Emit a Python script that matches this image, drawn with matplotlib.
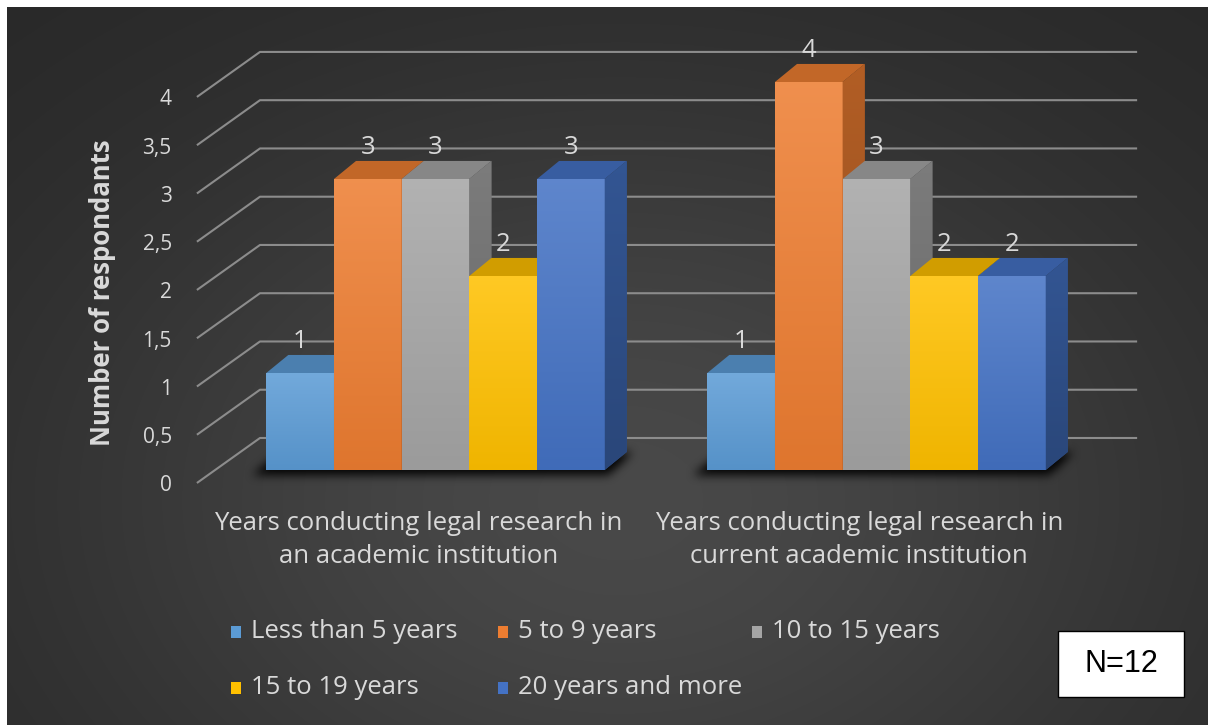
import numpy as np
import matplotlib
matplotlib.use("Agg")
import matplotlib.pyplot as plt
from matplotlib.patches import Polygon, Rectangle
from matplotlib.path import Path
from matplotlib.colors import to_rgb

# survey answers, one list per experience band (academic, current institution)
categories = ["Years conducting legal research in\nan academic institution",
              "Years conducting legal research in\ncurrent academic institution"]
series_names = ["Less than 5 years", "5 to 9 years", "10 to 15 years",
                "15 to 19 years", "20 years and more"]
less_than_5 = [1, 1]
five_to_9 = [3, 4]
ten_to_15 = [3, 3]
fifteen_to_19 = [2, 2]
twenty_plus = [3, 2]
series_values = [less_than_5, five_to_9, ten_to_15, fifteen_to_19, twenty_plus]
series_colors = ["#5B9BD5", "#ED7D31", "#A5A5A5", "#FFC000", "#4472C4"]
y_ticks = [0, 0.5, 1, 1.5, 2, 2.5, 3, 3.5, 4]
y_tick_labels = ["0", "0,5", "1", "1,5", "2", "2,5", "3", "3,5", "4"]

plt.rcParams["font.family"] = ["Open Sans", "DejaVu Sans"]
TXT = "#D9D9D9"
FS = 18.5      # category, legend and value labels
FS_TICK = 15

W, H = 1209, 725
fig = plt.figure(figsize=(W / 100, H / 100), dpi=100, facecolor="white")

# background panel in pixel coordinates
bg = fig.add_axes([0, 0, 1, 1])
bg.set_xlim(0, W)
bg.set_ylim(H, 0)
bg.axis("off")
yy, xx = np.mgrid[7:H, 7:W - 1]
d = np.sqrt(((xx - 620) / 720.0) ** 2 + ((yy - 500) / 520.0) ** 2)
shade = 0.15 + 0.135 * np.exp(-1.5 * d ** 2)
bg.imshow(np.dstack([shade] * 3), extent=(7, W - 1, H, 7), aspect="auto",
          interpolation="bilinear", zorder=0)

# chart axes: x = category index, y = value (front plane of the bars)
bar_w = 0.1535
ddx, ddy = 0.05, 0.186          # bar depth in data units
ax = fig.add_axes([215 / W, (H - 470) / H, 882 / W, 436.5 / H])
ax.set_xlim(-0.5, 1.5)
ax.set_ylim(0, 4.5)
ax.axis("off")
ax.patch.set_visible(False)


def mix(c, other, t):
    c = np.array(to_rgb(c))
    return tuple(c * (1 - t) + np.array(other) * t)


def gradient_fill(patch, x0, x1, y0, y1, c_top, c_bottom, z):
    grad = np.linspace(0, 1, 64)[:, None, None]
    img = np.array(c_top)[None, None, :] * (1 - grad) + np.array(c_bottom)[None, None, :] * grad
    img = np.repeat(img, 2, axis=1)
    im = ax.imshow(img, extent=(x0, x1, y0, y1), aspect="auto",
                   interpolation="bilinear", zorder=z)
    im.set_clip_path(patch)


# back wall gridlines with the slanted left wall
for v in y_ticks:
    yb = 0.33 + 0.995 * v
    yf = -0.134 + 0.995 * v
    ax.plot([-0.541, -0.398, 1.591], [yf, yb, yb], color="#8C8C8C", lw=1.5,
            solid_capstyle="butt", clip_on=False, zorder=1)
for v, lab in zip(y_ticks, y_tick_labels):
    ax.text(-0.598, -0.134 + 0.995 * v - 0.03, lab, ha="right", va="center",
            color=TXT, fontsize=FS_TICK, clip_on=False)

# soft floor shadow under each group
sx0, sx1, sy0, sy1 = 150, 1150, 400, 520
gy, gx = np.mgrid[sy0:sy1, sx0:sx1]
pts = np.column_stack([gx.ravel() + 0.5, gy.ravel() + 0.5])
mask = np.zeros(gx.size)
n = len(series_values)
for g in range(len(categories)):
    left = g - n / 2 * bar_w
    right = g + n / 2 * bar_w
    foot = ax.transData.transform([(left, 0), (right, 0), (right + ddx, ddy), (left + ddx, ddy)])
    foot[:, 1] = H - foot[:, 1]
    foot += [[-14, 5], [4, 5], [6, 0], [-8, 0]]
    mask = np.maximum(mask, Path(foot).contains_points(pts))
mask = mask.reshape(gx.shape).astype(float)
k = np.ones(9) / 9.0
for _ in range(3):
    mask = np.apply_along_axis(lambda m: np.convolve(m, k, mode="same"), 0, mask)
    mask = np.apply_along_axis(lambda m: np.convolve(m, k, mode="same"), 1, mask)
shadow = np.zeros(mask.shape + (4,))
shadow[..., 3] = np.clip(mask * 0.95, 0, 1)
bg.imshow(shadow, extent=(sx0, sx1, sy1, sy0), aspect="auto", zorder=1)

# pseudo-3D bars, drawn left to right so each front hides the previous side
for i, (vals, col) in enumerate(zip(series_values, series_colors)):
    xs = np.arange(len(categories)) + (i - (n - 1) / 2) * bar_w
    bars = ax.bar(xs, vals, bar_w, color=col, linewidth=0)
    for g, (rect, v) in enumerate(zip(bars, vals)):
        z = 2 + (g * n + i) * 0.1
        x0 = rect.get_x()
        x1 = x0 + bar_w
        rect.set_zorder(z)
        gradient_fill(rect, x0, x1, 0, v, mix(col, (1, 1, 1), 0.14),
                      mix(col, (0, 0, 0), 0.06), z + 0.01)
        top = Polygon([(x0, v), (x1, v), (x1 + ddx, v + ddy), (x0 + ddx, v + ddy)],
                      closed=True, facecolor=mix(col, (0, 0, 0), 0.18),
                      edgecolor="none", zorder=z + 0.02)
        ax.add_patch(top)
        side = Polygon([(x1, 0), (x1 + ddx, ddy), (x1 + ddx, v + ddy), (x1, v)],
                       closed=True, facecolor=mix(col, (0, 0, 0), 0.3),
                       edgecolor="none", zorder=z + 0.03)
        ax.add_patch(side)
        gradient_fill(side, x1, x1 + ddx, 0, v + ddy, mix(col, (0, 0, 0), 0.25),
                      mix(col, (0, 0, 0), 0.38), z + 0.04)
        ax.text(x0 + bar_w / 2, v + 0.32, f"{v:g}", ha="center", va="center",
                color=TXT, fontsize=FS, zorder=10)

ax.set_xlim(-0.5, 1.5)
ax.set_ylim(0, 4.5)

# category labels under the groups
for g, cat in enumerate(categories):
    ax.text(g - 0.039, -0.72, cat, ha="center", va="center", color=TXT,
            fontsize=FS, linespacing=1.4, clip_on=False)

fig.text(103 / W, 1 - 293 / H, "Number of respondants", rotation=90,
         ha="center", va="center", color=TXT, fontsize=18.5, fontweight="bold")

# legend, two rows of three columns
leg_cols = [236, 503, 757]
leg_rows = [632, 688]
for i, (name, col) in enumerate(zip(series_names, series_colors)):
    cx = leg_cols[i % 3]
    cy = leg_rows[i // 3]
    bg.add_patch(Rectangle((cx - 5, cy - 6), 10, 12, facecolor=col,
                           edgecolor="none", zorder=3))
    bg.text(cx + 15, cy, name, ha="left", va="center", color=TXT,
            fontsize=FS, zorder=3)

# sample size note
bg.add_patch(Rectangle((1058, 631), 126, 66, facecolor="white",
                       edgecolor="black", lw=1, zorder=3))
bg.text(1121, 664, "N=12", ha="center", va="center", color="black",
        fontsize=22, family="Liberation Sans", zorder=4)

fig.savefig("out.png", dpi=100, facecolor=fig.get_facecolor())
